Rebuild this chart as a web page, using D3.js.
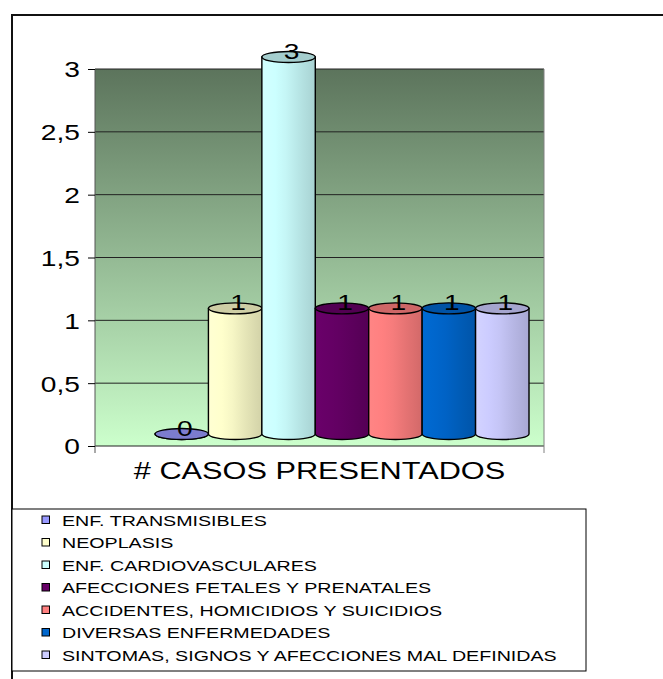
<!DOCTYPE html>
<html>
<head>
<meta charset="utf-8">
<script src="https://cdnjs.cloudflare.com/ajax/libs/d3/7.8.5/d3.min.js"></script>
<style>
  body { margin: 0; background: #fff; }
  text { font-family: Arial, "Liberation Sans", sans-serif; fill: #000; }
</style>
</head>
<body>
<div id="chart"></div>
<script>
// chart data
var categories = [
  "ENF. TRANSMISIBLES",
  "NEOPLASIS",
  "ENF. CARDIOVASCULARES",
  "AFECCIONES FETALES Y PRENATALES",
  "ACCIDENTES, HOMICIDIOS Y SUICIDIOS",
  "DIVERSAS ENFERMEDADES",
  "SINTOMAS, SIGNOS Y AFECCIONES MAL DEFINIDAS"
];
var values = [0, 1, 3, 1, 1, 1, 1];
var colors = ["#9999ff", "#ffffcc", "#ccffff", "#660066", "#ff8080", "#0066cc", "#ccccff"];
var yTicks = [0, 0.5, 1, 1.5, 2, 2.5, 3];
var axisTitle = "# CASOS PRESENTADOS";

var svgWidth = 663;
var svgHeight = 679;
var stretch = 1.28; // text in the original is drawn wide

var plot = { left: 95, right: 544, top: 69, bottom: 446 };

var svg = d3.select("#chart")
  .append("svg")
  .attr("width", svgWidth)
  .attr("height", svgHeight);

var defs = svg.append("defs");

// wall gradient
var wallGrad = defs.append("linearGradient")
  .attr("id", "wall")
  .attr("x1", 0).attr("y1", 0).attr("x2", 0).attr("y2", 1);
wallGrad.append("stop").attr("offset", "0%").attr("stop-color", "#5c745c");
wallGrad.append("stop").attr("offset", "100%").attr("stop-color", "#ccffcc");

// outer frame
svg.append("rect")
  .attr("x", 12).attr("y", 15)
  .attr("width", 700).attr("height", 700)
  .attr("fill", "none")
  .attr("stroke", "#111")
  .attr("stroke-width", 2);

// scales
var yScale = d3.scaleLinear()
  .domain([0, 3])
  .range([plot.bottom, plot.top]);

var xScale = d3.scaleBand()
  .domain(categories)
  .range([155, 529])
  .padding(0);

var fmt = d3.formatLocale({ decimal: ",", thousands: ".", grouping: [3], currency: ["", ""] }).format("~g");

// back wall
svg.append("rect")
  .attr("x", plot.left).attr("y", plot.top)
  .attr("width", plot.right - plot.left)
  .attr("height", plot.bottom - plot.top)
  .attr("fill", "url(#wall)");

// gridlines
svg.append("g")
  .selectAll("line")
  .data(yTicks)
  .enter()
  .append("line")
  .attr("x1", plot.left).attr("x2", plot.right)
  .attr("y1", d => yScale(d)).attr("y2", d => yScale(d))
  .attr("stroke", "#222")
  .attr("stroke-width", 1);

// wall edge
svg.append("line")
  .attr("x1", plot.right).attr("x2", plot.right)
  .attr("y1", plot.top).attr("y2", plot.bottom + 7)
  .attr("stroke", "#808080");

// y axis
var yAxis = d3.axisLeft(yScale)
  .tickValues(yTicks)
  .tickFormat(fmt)
  .tickSizeInner(7)
  .tickSizeOuter(0);

var axisG = svg.append("g")
  .attr("transform", `translate(${plot.left},0)`)
  .call(yAxis);

axisG.select(".domain")
  .attr("d", `M0,${plot.top}V${plot.bottom + 7}`)
  .attr("stroke", "#555");
axisG.selectAll(".tick line").attr("stroke", "#000");
axisG.selectAll(".tick text")
  .attr("x", null).attr("dy", null)
  .attr("font-size", "22px")
  .attr("font-family", "Arial, 'Liberation Sans', sans-serif")
  .attr("text-anchor", "end")
  .attr("dominant-baseline", "central")
  .attr("transform", `translate(-15,0) scale(${stretch},1)`);

// cylinders
var rx = xScale.bandwidth() / 2;
var ry = 5.5;
var lift = 12;

var bars = svg.append("g")
  .selectAll("g")
  .data(values)
  .enter()
  .append("g");

values.forEach(function(v, i) {
  var c = d3.color(colors[i]);
  var g = defs.append("linearGradient")
    .attr("id", "cyl" + i)
    .attr("x1", 0).attr("y1", 0).attr("x2", 1).attr("y2", 0);
  g.append("stop").attr("offset", "0%").attr("stop-color", c.brighter(0.1));
  g.append("stop").attr("offset", "25%").attr("stop-color", c);
  g.append("stop").attr("offset", "45%").attr("stop-color", c.darker(0.1));
  g.append("stop").attr("offset", "70%").attr("stop-color", c.darker(0.3));
  g.append("stop").attr("offset", "100%").attr("stop-color", c.darker(0.55));
});

bars.append("path")
  .attr("d", function(d, i) {
    var x0 = xScale(categories[i]);
    var x1 = x0 + xScale.bandwidth();
    var yt = yScale(d) - lift;
    var yb = yScale(0) - lift;
    return `M${x0},${yt}L${x0},${yb}A${rx},${ry} 0 0 0 ${x1},${yb}L${x1},${yt}Z`;
  })
  .attr("fill", (d, i) => `url(#cyl${i})`)
  .attr("stroke", "#000")
  .attr("stroke-width", 1.4);

bars.append("ellipse")
  .attr("cx", (d, i) => xScale(categories[i]) + rx)
  .attr("cy", d => yScale(d) - lift)
  .attr("rx", rx)
  .attr("ry", ry)
  .attr("fill", (d, i) => d3.color(colors[i]).darker(0.6))
  .attr("stroke", "#000")
  .attr("stroke-width", 1.4);

// value labels
bars.append("text")
  .attr("transform", (d, i) => `translate(${xScale(categories[i]) + rx + 3},${yScale(d) - 10}) scale(${stretch},1)`)
  .attr("text-anchor", "middle")
  .attr("font-size", "22px")
  .text(d => fmt(d));

// axis title
svg.append("text")
  .attr("transform", `translate(${(plot.left + plot.right) / 2},${479}) scale(${stretch},1)`)
  .attr("text-anchor", "middle")
  .attr("font-size", "24px")
  .text(axisTitle);

// legend
var legend = svg.append("g");
legend.append("rect")
  .attr("x", 12).attr("y", 509)
  .attr("width", 586 - 12).attr("height", 671 - 509)
  .attr("fill", "#fff")
  .attr("stroke", "#000")
  .attr("stroke-width", 1);

var items = legend.selectAll("g.item")
  .data(categories)
  .enter()
  .append("g")
  .attr("class", "item")
  .attr("transform", (d, i) => `translate(0,${520 + i * 22.5})`);

items.append("rect")
  .attr("x", 42).attr("y", -4)
  .attr("width", 7.5).attr("height", 7.5)
  .attr("fill", (d, i) => colors[i])
  .attr("stroke", "#000")
  .attr("stroke-width", 1);

items.append("text")
  .attr("transform", `translate(62,5.5) scale(1.31,1)`)
  .attr("font-size", "15px")
  .text(d => d);
</script>
</body>
</html>
